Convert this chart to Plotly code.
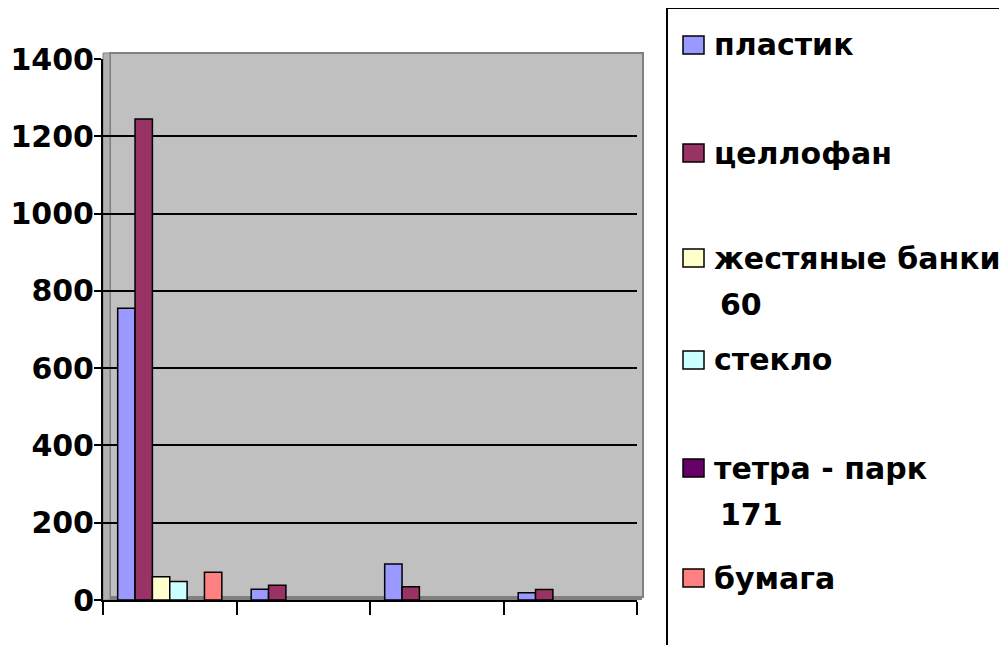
import plotly.graph_objects as go

categories = ["1", "2", "3", "4"]
series_names = ["пластик", "целлофан", "жестяные банки", "стекло", "тетра - парк", "бумага"]
legend_extra = ["", "", "60", "", "171", ""]
plastic = [755, 28, 93, 19]
cellophane = [1245, 38, 34, 27]
tin = [60, None, None, None]
glass = [48, None, None, None]
tetra = [None, None, None, None]
paper = [72, None, None, None]
series_values = [plastic, cellophane, tin, glass, tetra, paper]
colors = ["#9999FF", "#993366", "#FFFFCC", "#CCFFFF", "#660066", "#FF8080"]
y_ticks = [0, 200, 400, 600, 800, 1000, 1200, 1400]

FONT = "DejaVu Sans"
OFF = 8  # default page body margin
L, R, T, B = 103, 637, 59, 600  # plot area in screen pixels
W, H = 1007 - OFF, 645 - OFF


def px_x(px):
    return (px - L) / (R - L)


def px_y(py):
    return (B - py) / (B - T)


fig = go.Figure()
for name, vals, col in zip(series_names, series_values, colors):
    fig.add_trace(go.Bar(
        x=categories, y=vals, name=name, showlegend=False,
        marker=dict(color=col, line=dict(color="black", width=1.5)),
    ))

shapes = []
annotations = []
# back wall
shapes.append(dict(type="rect", xref="paper", yref="paper", x0=px_x(110), x1=px_x(643),
                   y0=px_y(597), y1=px_y(53), fillcolor="#C0C0C0",
                   line=dict(color="#808080", width=2), layer="below"))
# floor strip
shapes.append(dict(type="rect", xref="paper", yref="paper", x0=px_x(106), x1=px_x(642), y0=0, y1=px_y(596),
                   fillcolor="#808080", line=dict(width=0), layer="below"))
# left wall strip
shapes.append(dict(type="rect", xref="paper", yref="paper", x0=0, x1=px_x(110), y0=0, y1=px_y(53),
                   fillcolor="#B0B0B0", line=dict(color="#808080", width=1), layer="below"))
# legend box
shapes.append(dict(type="rect", xref="paper", yref="paper", x0=px_x(667), x1=px_x(1040),
                   y0=px_y(690), y1=px_y(8), line=dict(color="black", width=2), fillcolor="white"))

item_y = [45, 153, 258, 360, 468, 578]
for name, extra, col, yc in zip(series_names, legend_extra, colors, item_y):
    shapes.append(dict(type="rect", xref="paper", yref="paper", x0=px_x(683), x1=px_x(704),
                       y0=px_y(yc + 9), y1=px_y(yc - 9), fillcolor=col,
                       line=dict(color="black", width=1.5)))
    annotations.append(dict(x=px_x(712), y=px_y(yc), xref="paper", yref="paper", text=name,
                            showarrow=False, xanchor="left", yanchor="middle",
                            font=dict(family=FONT, size=30, color="black", weight="bold")))
    if extra:
        annotations.append(dict(x=px_x(718), y=px_y(yc + 46), xref="paper", yref="paper", text=extra,
                                showarrow=False, xanchor="left", yanchor="middle",
                                font=dict(family=FONT, size=30, color="black", weight="bold")))

fig.update_layout(
    width=W, height=H,
    margin=dict(l=L - OFF, r=W - (R - OFF), t=T - OFF, b=H - (B - OFF), pad=0, autoexpand=False),
    paper_bgcolor="white", plot_bgcolor="rgba(0,0,0,0)",
    barmode="group", bargap=0.22, bargroupgap=0,
    shapes=shapes, annotations=annotations,
    showlegend=False,
    xaxis=dict(showticklabels=False, showline=True, linecolor="black", linewidth=2,
               ticks="outside", ticklen=13, tickwidth=1.5, tickcolor="black",
               tickson="boundaries", showgrid=False, fixedrange=True, automargin=False),
    yaxis=dict(range=[0, 1400], tickvals=y_ticks, ticktext=[str(v) for v in y_ticks],
               showline=True, linecolor="black", linewidth=2, automargin=False,
               ticks="outside", ticklen=7, tickwidth=1.5, tickcolor="black",
               ticklabelstandoff=-6,
               showgrid=True, gridcolor="black", gridwidth=1.5, zeroline=False,
               tickfont=dict(family=FONT, size=30, color="black", weight="bold")),
)

fig.write_html("out.html")
